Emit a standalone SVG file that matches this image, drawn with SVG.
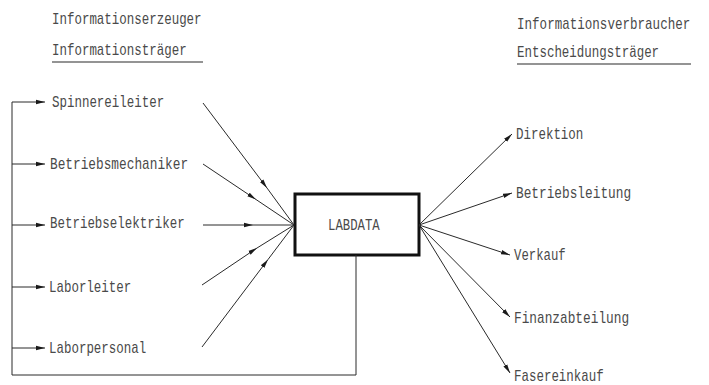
<svg xmlns="http://www.w3.org/2000/svg" width="709" height="385" viewBox="0 0 709 385">
<style>
text{font-family:"Liberation Mono","DejaVu Sans Mono",monospace;font-size:16px;fill:#4a4a4a}
.ln{stroke:#2a2a2a;stroke-width:1;fill:none}
.hd{stroke:#2a2a2a;stroke-width:1.2;fill:none}
</style>
<defs>
<marker id="ah" markerUnits="userSpaceOnUse" markerWidth="10" markerHeight="6" refX="9" refY="3" orient="auto">
<path d="M0,0.8 L9,3 L0,5.2 z" fill="#1a1a1a"/>
</marker>
</defs>
<g id="headers">
<text transform="translate(52,24) scale(0.78,1)">Informationserzeuger</text>
<text transform="translate(52,55) scale(0.78,1)">Informationsträger</text>
<line class="hd" x1="52" y1="62" x2="203" y2="62"/>
<text transform="translate(517,29) scale(0.785,1)">Informationsverbraucher</text>
<text transform="translate(517,57) scale(0.78,1)">Entscheidungsträger</text>
<line class="hd" x1="517" y1="64" x2="691" y2="64"/>
</g>
<g id="labdata">
<rect x="295" y="194" width="124" height="61" fill="none" stroke="#111" stroke-width="3"/>
<text transform="translate(328,230) scale(0.77,1)">LABDATA</text>
</g>
<g id="spinnereileiter"><text transform="translate(52,107) scale(0.78,1)">Spinnereileiter</text></g>
<g id="betriebsmechaniker"><text transform="translate(50,169) scale(0.8,1)">Betriebsmechaniker</text></g>
<g id="betriebselektriker"><text transform="translate(50,228) scale(0.78,1)">Betriebselektriker</text></g>
<g id="laborleiter"><text transform="translate(49,292) scale(0.78,1)">Laborleiter</text></g>
<g id="laborpersonal"><text transform="translate(49,353) scale(0.78,1)">Laborpersonal</text></g>
<g id="direktion"><text transform="translate(516,139) scale(0.78,1)">Direktion</text></g>
<g id="betriebsleitung"><text transform="translate(516,198) scale(0.8,1)">Betriebsleitung</text></g>
<g id="verkauf"><text transform="translate(514,260) scale(0.77,1)">Verkauf</text></g>
<g id="finanzabteilung"><text transform="translate(514,323) scale(0.8,1)">Finanzabteilung</text></g>
<g id="fasereinkauf"><text transform="translate(514,381) scale(0.78,1)">Fasereinkauf</text></g>
<g id="connectors">
<path class="ln" d="M356,255 V375 H12 V102"/>
<path class="ln" d="M12,102 H45" marker-end="url(#ah)"/>
<path class="ln" d="M12,164 H45" marker-end="url(#ah)"/>
<path class="ln" d="M12,225 H45" marker-end="url(#ah)"/>
<path class="ln" d="M12,287 H45" marker-end="url(#ah)"/>
<path class="ln" d="M12,348 H45" marker-end="url(#ah)"/>
<path class="ln" d="M203,103 L267,188 L294,225" marker-mid="url(#ah)"/>
<path class="ln" d="M203,164 L256,199.5 L294,225" marker-mid="url(#ah)"/>
<path class="ln" d="M203,225 L253,225 L294,225" marker-mid="url(#ah)"/>
<path class="ln" d="M202,285 L257,248 L294,225" marker-mid="url(#ah)"/>
<path class="ln" d="M202,347 L268,259.5 L294,225" marker-mid="url(#ah)"/>
<path class="ln" d="M419,225 L512,134" marker-end="url(#ah)"/>
<path class="ln" d="M419,225 L512,193" marker-end="url(#ah)"/>
<path class="ln" d="M419,225 L510,255" marker-end="url(#ah)"/>
<path class="ln" d="M419,225 L510,317" marker-end="url(#ah)"/>
<path class="ln" d="M419,225 L510,373" marker-end="url(#ah)"/>
</g>
</svg>
